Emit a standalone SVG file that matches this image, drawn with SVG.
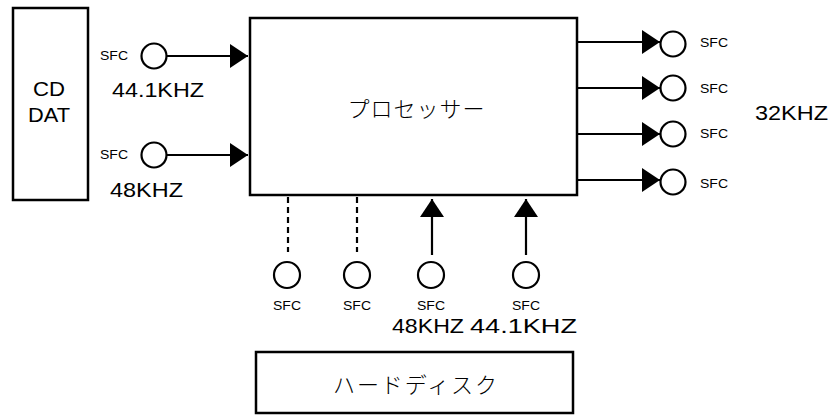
<svg xmlns="http://www.w3.org/2000/svg" width="837" height="415" viewBox="0 0 837 415">
<defs>
<style>
.box{fill:#fff;stroke:#000;stroke-width:2.5}
.c{fill:#fff;stroke:#000;stroke-width:2.2}
.ln{stroke:#000;stroke-width:2.2;fill:none}
.dash{stroke:#000;stroke-width:2.2;fill:none;stroke-dasharray:6,4}
.t{font-family:"Liberation Sans",Arial,sans-serif;font-size:21px;fill:#000}
.s{font-family:"Liberation Sans",Arial,sans-serif;font-size:13px;fill:#000}
.j{font-family:"Noto Sans CJK JP","Noto Sans CJK SC",sans-serif;font-size:22px;fill:#000;font-weight:300}
</style>
<marker id="ah" markerUnits="userSpaceOnUse" markerWidth="18" markerHeight="24" refX="18" refY="12" orient="auto" viewBox="0 0 18 24">
<path d="M0,0 L18,12 L0,24 Z" fill="#000"/>
</marker>
</defs>
<rect width="837" height="415" fill="#fff"/>
<g id="cd-dat">
<rect class="box" x="13" y="8" width="75" height="192"/>
<text class="t" x="49" y="96" text-anchor="middle" textLength="32" lengthAdjust="spacingAndGlyphs">CD</text>
<text class="t" x="49" y="122" text-anchor="middle" textLength="42" lengthAdjust="spacingAndGlyphs">DAT</text>
</g>
<g id="processor">
<rect class="box" x="250" y="18" width="327" height="177"/>
<text class="j" x="416" y="107" text-anchor="middle" dominant-baseline="central" textLength="137" lengthAdjust="spacing">プロセッサー</text>
</g>
<g id="harddisk">
<rect class="box" x="256" y="352" width="317" height="61"/>
<text class="j" x="415" y="383" text-anchor="middle" dominant-baseline="central" textLength="164" lengthAdjust="spacing">ハードディスク</text>
</g>
<g id="sfc-in1">
<circle class="c" cx="154" cy="56" r="12.5"/>
<text class="s" x="100" y="60" textLength="28" lengthAdjust="spacingAndGlyphs">SFC</text>
<text class="t" x="112" y="97" textLength="92" lengthAdjust="spacingAndGlyphs">44.1KHZ</text>
</g>
<g id="sfc-in2">
<circle class="c" cx="154" cy="155" r="12.5"/>
<text class="s" x="100" y="159" textLength="28" lengthAdjust="spacingAndGlyphs">SFC</text>
<text class="t" x="110" y="197" textLength="73" lengthAdjust="spacingAndGlyphs">48KHZ</text>
</g>
<g id="sfc-out1">
<circle class="c" cx="673" cy="44" r="12.5"/>
<text class="s" x="700" y="47" textLength="28" lengthAdjust="spacingAndGlyphs">SFC</text>
</g>
<g id="sfc-out2">
<circle class="c" cx="673" cy="88" r="12.5"/>
<text class="s" x="700" y="93" textLength="28" lengthAdjust="spacingAndGlyphs">SFC</text>
</g>
<g id="sfc-out3">
<circle class="c" cx="673" cy="134" r="12.5"/>
<text class="s" x="700" y="138" textLength="28" lengthAdjust="spacingAndGlyphs">SFC</text>
</g>
<g id="sfc-out4">
<circle class="c" cx="673" cy="182" r="12.5"/>
<text class="s" x="700" y="188" textLength="28" lengthAdjust="spacingAndGlyphs">SFC</text>
</g>
<g id="label-32k">
<text class="t" x="755" y="120" textLength="73" lengthAdjust="spacingAndGlyphs">32KHZ</text>
</g>
<g id="sfc-hd1">
<circle class="c" cx="287" cy="275" r="13"/>
<text class="s" x="287" y="310" text-anchor="middle" textLength="28" lengthAdjust="spacingAndGlyphs">SFC</text>
</g>
<g id="sfc-hd2">
<circle class="c" cx="357" cy="275" r="13"/>
<text class="s" x="357" y="310" text-anchor="middle" textLength="28" lengthAdjust="spacingAndGlyphs">SFC</text>
</g>
<g id="sfc-hd3">
<circle class="c" cx="431" cy="275" r="13"/>
<text class="s" x="431" y="310" text-anchor="middle" textLength="28" lengthAdjust="spacingAndGlyphs">SFC</text>
<text class="t" x="392" y="333" textLength="72" lengthAdjust="spacingAndGlyphs">48KHZ</text>
</g>
<g id="sfc-hd4">
<circle class="c" cx="526" cy="275" r="13"/>
<text class="s" x="526" y="310" text-anchor="middle" textLength="28" lengthAdjust="spacingAndGlyphs">SFC</text>
<text class="t" x="470" y="333" textLength="107" lengthAdjust="spacingAndGlyphs">44.1KHZ</text>
</g>
<g id="connectors">
<line class="ln" x1="166" y1="56" x2="248" y2="56" marker-end="url(#ah)"/>
<line class="ln" x1="166" y1="155" x2="248" y2="155" marker-end="url(#ah)"/>
<line class="ln" x1="577" y1="42" x2="660" y2="42" marker-end="url(#ah)"/>
<line class="ln" x1="577" y1="88" x2="660" y2="88" marker-end="url(#ah)"/>
<line class="ln" x1="577" y1="134" x2="660" y2="134" marker-end="url(#ah)"/>
<line class="ln" x1="577" y1="180" x2="660" y2="180" marker-end="url(#ah)"/>
<line class="dash" x1="288" y1="197" x2="288" y2="252"/>
<line class="dash" x1="357" y1="197" x2="357" y2="252"/>
<line class="ln" x1="432" y1="255" x2="432" y2="199" marker-end="url(#ah)"/>
<line class="ln" x1="526" y1="255" x2="526" y2="199" marker-end="url(#ah)"/>
</g>
</svg>
